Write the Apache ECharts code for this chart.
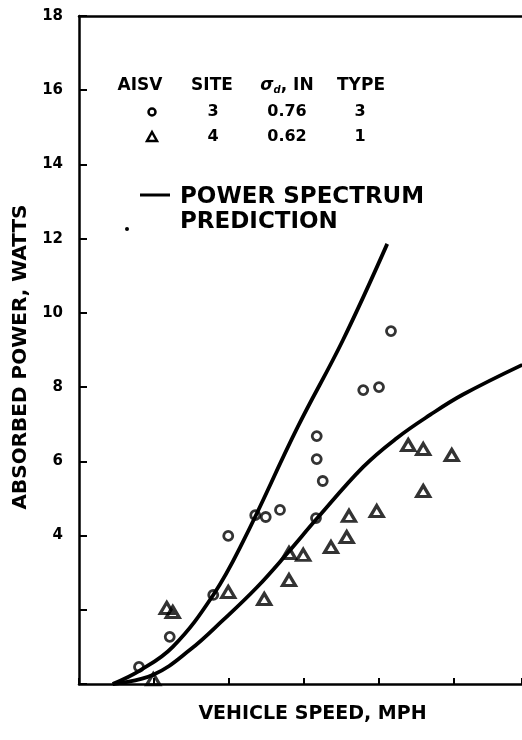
<!DOCTYPE html>
<html>
<head>
<meta charset="utf-8">
<script src="https://cdn.jsdelivr.net/npm/echarts@6/dist/echarts.min.js"></script>
<style>
html,body{margin:0;padding:0;background:#fff;}
#c{width:522px;height:740px;}
</style>
</head>
<body>
<div id="c"></div>
<script>
// Measured data (x in axis units, 1 tick = 10; y in watts)
const circleX = [8.0, 12.1, 17.9, 19.9, 23.5, 24.9, 26.8, 31.7, 31.7, 32.5, 31.6, 37.9, 40.0, 41.6];
const circleY = [0.46, 1.27, 2.40, 3.99, 4.55, 4.50, 4.69, 6.68, 6.06, 5.47, 4.47, 7.92, 8.00, 9.51];
const triX = [9.9, 11.7, 12.5, 19.9, 24.7, 28.0, 28.0, 29.9, 33.6, 35.7, 36.0, 39.7, 43.9, 45.9, 49.7, 45.9];
const triY = [0.13, 2.05, 1.94, 2.48, 2.29, 2.80, 3.53, 3.48, 3.69, 3.96, 4.53, 4.66, 6.44, 6.33, 6.17, 5.20];
const upperX = [4.5, 8.1, 12.5, 17.9, 21.9, 29.1, 35.2, 41.1];
const upperY = [0, 0.36, 1.00, 2.40, 3.85, 6.90, 9.27, 11.86];
const lowerX = [4.5, 9.9, 14.8, 19.2, 23.7, 27.9, 31.7, 37.9, 42.4, 46.8, 51.2, 59.1];
const lowerY = [0, 0.25, 0.92, 1.72, 2.6, 3.55, 4.45, 5.85, 6.63, 7.25, 7.80, 8.6];
const yTickLabels = [4, 6, 8, 10, 12, 14, 16, 18];

const legendHeader = ['AISV', 'SITE', 'σd, IN', 'TYPE'];
const legendRow1 = ['3', '0.76', '3'];
const legendRow2 = ['4', '0.62', '1'];

const zip = (a, b) => a.map((v, i) => [v, b[i]]);
const FONT = '"DejaVu Sans", sans-serif';

const chart = echarts.init(document.getElementById('c'), null, {renderer: 'canvas'});

const txt = (text, x, y, size, align) => ({
  type: 'text', x: x, y: y,
  style: {text: text, fill: '#000', font: 'bold ' + size + 'px ' + FONT,
          align: align || 'center', verticalAlign: 'middle'}
});

chart.setOption({
  backgroundColor: '#fff',
  animation: false,
  grid: {left: 79, right: 0, top: 16, bottom: 56},
  xAxis: [{
    type: 'value', min: 0, max: 59.07, interval: 10,
    name: 'VEHICLE SPEED, MPH', nameLocation: 'middle', nameGap: 21,
    nameTextStyle: {fontFamily: FONT, fontWeight: 'bold', fontSize: 19, color: '#000', padding: [0, 0, 0, 24]},
    axisLine: {show: true, lineStyle: {color: '#000', width: 2.5}},
    axisTick: {show: true, inside: true, length: 6, lineStyle: {color: '#000', width: 2}},
    axisLabel: {show: false},
    splitLine: {show: false}
  }, {
    type: 'value', position: 'top', min: 0, max: 59.07,
    axisLine: {show: true, lineStyle: {color: '#000', width: 2.5}},
    axisTick: {show: false}, axisLabel: {show: false}, splitLine: {show: false}
  }],
  yAxis: {
    type: 'value', min: 0, max: 18, interval: 2,
    name: 'ABSORBED POWER, WATTS', nameLocation: 'middle', nameGap: 48,
    nameTextStyle: {fontFamily: FONT, fontWeight: 'bold', fontSize: 20, color: '#000', padding: [0, 14, 0, 0]},
    axisLine: {show: true, lineStyle: {color: '#000', width: 2.5}},
    axisTick: {show: true, inside: true, length: 8, lineStyle: {color: '#000', width: 2}},
    axisLabel: {
      margin: 16, fontFamily: FONT, fontWeight: 'bold', fontSize: 15, color: '#000',
      formatter: v => (yTickLabels.indexOf(v) >= 0 ? String(v) : '')
    },
    splitLine: {show: false}
  },
  series: [
    {type: 'line', data: zip(upperX, upperY), smooth: 0.4, showSymbol: false,
     lineStyle: {color: '#000', width: 3.8}, z: 2},
    {type: 'line', data: zip(lowerX, lowerY), smooth: 0.4, showSymbol: false,
     lineStyle: {color: '#000', width: 3.8}, z: 2},
    {type: 'scatter', data: zip(circleX, circleY), symbol: 'circle', symbolSize: 9,
     itemStyle: {color: 'rgba(0,0,0,0)', borderColor: '#000', borderWidth: 2.8}, z: 3},
    {type: 'scatter', data: zip(triX, triY), symbol: 'triangle', symbolSize: [13, 11],
     itemStyle: {color: 'rgba(0,0,0,0)', borderColor: '#000', borderWidth: 3.2}, z: 3}
  ],
  graphic: [
    txt(legendHeader[0], 140, 86, 17),
    txt(legendHeader[1], 212, 86, 17),
    {type: 'text', x: 287, y: 86,
     style: {text: '{s|σ}{sub|d}{p|, IN}', align: 'center', verticalAlign: 'middle',
       rich: {
         s: {fontFamily: FONT, fontStyle: 'italic', fontWeight: 'bold', fontSize: 17, fill: '#000'},
         sub: {fontFamily: FONT, fontStyle: 'italic', fontWeight: 'bold', fontSize: 10, fill: '#000', padding: [8, 0, 0, 0]},
         p: {fontFamily: FONT, fontWeight: 'bold', fontSize: 17, fill: '#000'}
       }}},
    txt(legendHeader[3], 361, 86, 17),
    {type: 'circle', shape: {cx: 152, cy: 112, r: 3.5}, style: {fill: 'none', stroke: '#000', lineWidth: 2.5}},
    txt(legendRow1[0], 213, 112, 16),
    txt(legendRow1[1], 287, 112, 16),
    txt(legendRow1[2], 360, 112, 16),
    {type: 'polygon', shape: {points: [[152, 132], [157, 141], [147, 141]]}, style: {fill: 'none', stroke: '#000', lineWidth: 2.5}},
    txt(legendRow2[0], 213, 137, 16),
    txt(legendRow2[1], 287, 137, 16),
    txt(legendRow2[2], 360, 137, 16),
    {type: 'line', shape: {x1: 140, y1: 195, x2: 170, y2: 195}, style: {stroke: '#000', lineWidth: 3}},
    txt('POWER SPECTRUM', 180, 197, 23, 'left'),
    txt('PREDICTION', 180, 222, 23, 'left'),
    {type: 'circle', shape: {cx: 127, cy: 229, r: 2}, style: {fill: '#000'}}
  ]
});
</script>
</body>
</html>
